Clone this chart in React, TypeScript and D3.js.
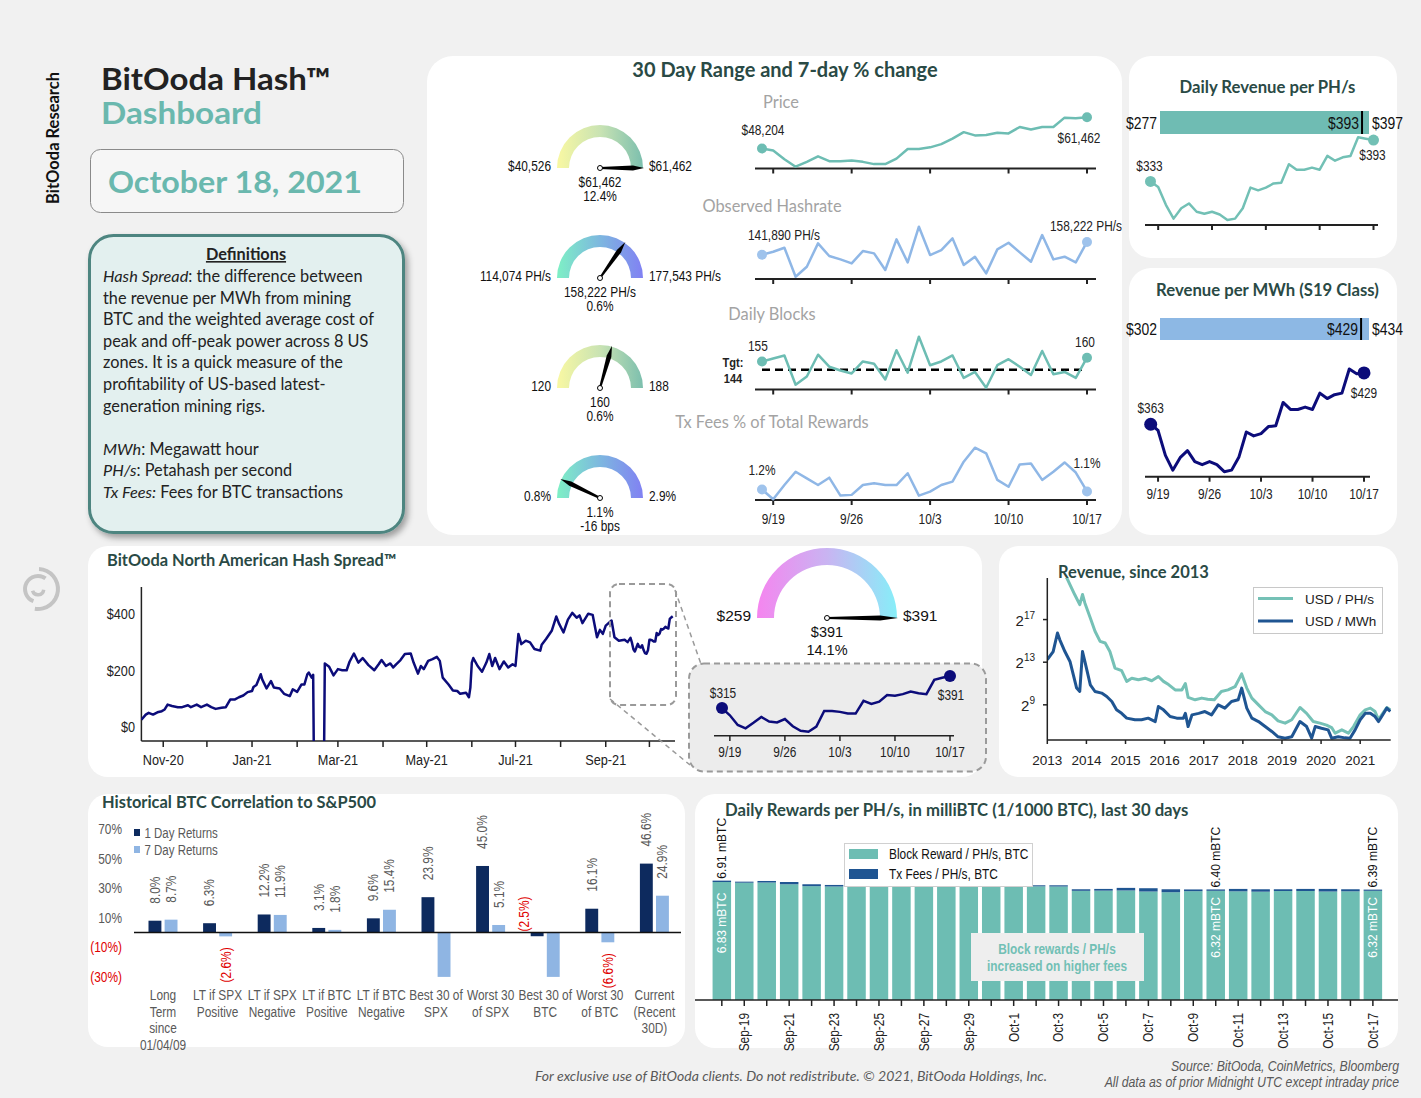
import * as d3 from "d3";

const ARIAL = "'Liberation Sans', Arial, sans-serif";
const CAL = "Lato, 'Open Sans', sans-serif";
const NS = 0.82; // narrow text squeeze (no Arial Narrow installed)

const TEAL = "#6dbdb3";
const LBLUE = "#8fb7e6";
const NAVY = "#0c0c7a";
const DBLUE = "#1f5592";
const TITLE = "#2a4a45";
const GRAY = "#595959";

// ---- 30 day window (9/18 - 10/17) ----
const days30 = d3.timeDay.range(new Date(2021, 8, 18), new Date(2021, 9, 18));

const priceUsd = [48204, 47366, 43672, 40526, 42578, 44904, 42852, 42852, 43125, 42578, 41620, 41620, 43946, 48050, 48050, 48734, 50102, 52428, 55164, 53796, 53932, 54890, 54616, 57352, 56258, 57352, 57352, 61320, 61046, 61462];
const hashratePhs = [141890, 145800, 150875, 114074, 126764, 156374, 140300, 136070, 131000, 146650, 143680, 122530, 161450, 132260, 177543, 141570, 147910, 162720, 128880, 139450, 118300, 148760, 157220, 144950, 133110, 166950, 136070, 139450, 132260, 158222];
const dailyBlocks = [155, 159, 163, 124, 135, 164, 148, 143, 139, 155, 152, 131, 170, 140, 188, 150, 155, 163, 133, 141, 120, 150, 158, 148, 137, 169, 138, 141, 133, 160];
const txFeePct = [1.2, 0.8, 1.38, 1.92, 1.65, 1.38, 1.68, 0.95, 0.98, 1.38, 1.45, 1.38, 1.38, 1.86, 0.95, 1.11, 1.38, 1.52, 2.33, 2.9, 2.67, 1.59, 1.31, 2.22, 2.26, 1.59, 1.92, 2.3, 1.89, 1.12];
const revPerPhs = [333, 325, 299, 279, 294, 301, 289, 286, 289, 285, 277, 279, 294, 324, 320, 324, 330, 331, 358, 350, 350, 353, 350, 370, 363, 368, 370, 397, 395, 393];
const revPerMwh = [363, 355, 323, 304, 320, 329, 315, 311, 315, 311, 302, 304, 321, 353, 348, 351, 360, 361, 391, 382, 382, 385, 382, 403, 396, 401, 403, 434, 428, 429];
const spreadLast30 = [315, 298, 275, 267, 280, 294, 283, 281, 289, 272, 261, 259, 271, 308, 308, 306, 302, 302, 332, 325, 330, 346, 344, 348, 354, 350, 348, 382, 387, 391];

// ---- hash spread, one year (before the last 30 days) ----
const spreadDates = [
  "2020-10-17", "2020-10-20", "2020-10-22", "2020-10-25", "2020-10-28", "2020-10-31", "2020-11-02", "2020-11-04",
  "2020-11-07", "2020-11-11", "2020-11-14", "2020-11-18", "2020-11-20", "2020-11-24", "2020-11-27", "2020-12-01",
  "2020-12-04", "2020-12-07", "2020-12-11", "2020-12-14", "2020-12-17", "2020-12-20", "2020-12-23", "2020-12-26",
  "2020-12-29", "2021-01-01", "2021-01-02", "2021-01-04", "2021-01-07", "2021-01-08", "2021-01-11", "2021-01-14",
  "2021-01-16", "2021-01-20", "2021-01-23", "2021-01-27", "2021-01-29", "2021-02-01", "2021-02-04", "2021-02-06",
  "2021-02-08", "2021-02-09", "2021-02-11", "2021-02-12", "2021-02-13", "2021-02-16", "2021-02-19", "2021-02-20",
  "2021-02-23", "2021-02-26", "2021-03-01", "2021-03-04", "2021-03-07", "2021-03-09", "2021-03-12", "2021-03-15",
  "2021-03-18", "2021-03-22", "2021-03-26", "2021-03-29", "2021-03-31", "2021-04-03", "2021-04-06", "2021-04-08",
  "2021-04-10", "2021-04-13", "2021-04-16", "2021-04-20", "2021-04-22", "2021-04-25", "2021-04-27", "2021-04-29",
  "2021-05-02", "2021-05-05", "2021-05-08", "2021-05-10", "2021-05-12", "2021-05-16", "2021-05-19", "2021-05-22",
  "2021-05-24", "2021-05-28", "2021-05-30", "2021-05-31", "2021-06-01", "2021-06-02", "2021-06-05", "2021-06-08",
  "2021-06-11", "2021-06-13", "2021-06-15", "2021-06-17", "2021-06-20", "2021-06-23", "2021-06-26", "2021-06-29",
  "2021-07-01", "2021-07-03", "2021-07-05", "2021-07-08", "2021-07-11", "2021-07-14", "2021-07-18", "2021-07-19",
  "2021-07-22", "2021-07-26", "2021-07-29", "2021-07-31", "2021-08-03", "2021-08-06", "2021-08-09", "2021-08-12",
  "2021-08-14", "2021-08-16", "2021-08-20", "2021-08-23", "2021-08-26", "2021-08-28", "2021-08-30", "2021-09-01",
  "2021-09-05", "2021-09-07", "2021-09-10", "2021-09-14", "2021-09-16",
];
const spreadValues = [
  27, 45, 51, 45, 53, 57, 63, 80,
  75, 71, 71, 78, 71, 80, 71, 80,
  71, 65, 69, 71, 98, 98, 106, 112,
  124, 128, 142, 149, 187, 169, 137, 163,
  140, 137, 118, 110, 134, 125, 151, 151,
  187, 193, 175, 185, -420, -600, -400, 225,
  213, 183, 205, 201, 201, 231, 260, 228,
  244, 219, 201, 222, 237, 216, 225, 211,
  222, 237, 258, 260, 228, 189, 216, 205,
  234, 240, 248, 234, 175, 151, 130, 128,
  118, 122, 106, 140, 228, 244, 216, 196,
  228, 258, 216, 244, 205, 232, 211, 222,
  216, 329, 293, 305, 299, 276, 270, 291,
  311, 341, 390, 364, 334, 379, 403, 386,
  394, 367, 400, 396, 317, 343, 329, 358,
  376, 317, 305, 308, 300,
];

// ---- revenue since 2013 (log2 of USD) ----
const revYearsPhs = [2013.0, 2013.28, 2013.5, 2013.7, 2013.83, 2013.9, 2013.96, 2014.1, 2014.22, 2014.35, 2014.48, 2014.6, 2014.73, 2014.9, 2015.03, 2015.16, 2015.33, 2015.5, 2015.67, 2015.84, 2015.97, 2016.1, 2016.27, 2016.44, 2016.53, 2016.6, 2016.78, 2016.95, 2017.1, 2017.27, 2017.45, 2017.62, 2017.8, 2017.97, 2018.1, 2018.23, 2018.4, 2018.57, 2018.74, 2018.9, 2019.08, 2019.25, 2019.46, 2019.63, 2019.8, 2019.97, 2020.14, 2020.27, 2020.36, 2020.53, 2020.7, 2020.83, 2021.0, 2021.13, 2021.26, 2021.38, 2021.47, 2021.55, 2021.68, 2021.77];
const revPhsLog2 = [22.5, 21.8, 20.9, 19.35, 18.4, 19.35, 18.56, 17.15, 15.9, 14.96, 14.8, 14.0, 12.45, 12.2, 11.2, 11.5, 11.35, 11.5, 11.26, 11.66, 11.2, 10.9, 10.4, 10.4, 11.0, 9.7, 9.47, 9.63, 9.53, 9.47, 10.25, 10.4, 10.7, 11.9, 10.57, 9.63, 9.0, 8.37, 8.06, 7.5, 7.28, 7.6, 8.75, 8.2, 7.43, 7.28, 7.1, 6.87, 6.34, 6.65, 6.34, 6.96, 8.06, 8.53, 8.69, 8.37, 7.6, 8.06, 8.75, 8.53];
const revYearsMwh = [2013.0, 2013.15, 2013.26, 2013.32, 2013.45, 2013.58, 2013.75, 2013.83, 2013.9, 2013.96, 2014.1, 2014.22, 2014.39, 2014.52, 2014.65, 2014.77, 2014.9, 2015.03, 2015.24, 2015.41, 2015.58, 2015.76, 2015.84, 2015.97, 2016.14, 2016.31, 2016.48, 2016.53, 2016.6, 2016.7, 2016.87, 2017.03, 2017.2, 2017.37, 2017.54, 2017.71, 2017.88, 2017.97, 2018.1, 2018.23, 2018.4, 2018.57, 2018.74, 2018.9, 2019.08, 2019.25, 2019.46, 2019.63, 2019.76, 2019.85, 2020.01, 2020.18, 2020.27, 2020.44, 2020.61, 2020.74, 2020.87, 2021.0, 2021.13, 2021.26, 2021.38, 2021.47, 2021.55, 2021.68, 2021.77];
const revMwhLog2 = [13.23, 14.0, 15.74, 15.1, 14.0, 13.07, 10.57, 10.25, 14.0, 13.07, 10.88, 10.25, 10.1, 9.78, 9.31, 8.53, 8.2, 7.75, 7.6, 7.6, 7.75, 7.43, 8.84, 8.53, 7.9, 7.75, 7.75, 8.2, 6.96, 8.06, 8.2, 8.37, 8.06, 9.0, 8.69, 9.31, 9.47, 10.57, 8.69, 7.75, 7.43, 6.96, 6.5, 6.0, 5.87, 6.0, 7.43, 6.96, 5.87, 6.96, 6.8, 6.65, 5.87, 6.0, 5.9, 5.87, 6.65, 7.6, 8.2, 8.2, 7.9, 7.43, 7.9, 8.69, 8.37];
const revYears = [2013, 2014, 2015, 2016, 2017, 2018, 2019, 2020, 2021];
const revExpTicks = [9, 13, 17];

// ---- correlation ----
const corrCategories = [
  ["Long", "Term", "since", "01/04/09"], ["LT if SPX", "Positive"], ["LT if SPX", "Negative"], ["LT if BTC", "Positive"],
  ["LT if BTC", "Negative"], ["Best 30 of", "SPX"], ["Worst 30", "of SPX"], ["Best 30 of", "BTC"], ["Worst 30", "of BTC"],
  ["Current", "(Recent", "30D)"],
];
const corr1Day = [8.0, 6.3, 12.2, 3.1, 9.6, 23.9, 45.0, -2.5, 16.1, 46.6];
const corr7Day = [8.7, -2.6, 11.9, 1.8, 15.4, -31, 5.1, -31, -6.6, 24.9];
const corrTicks = [70, 50, 30, 10, -10, -30];

// ---- daily rewards (mBTC) ----
const blockRewardMbtc = [6.83, 6.79, 6.8, 6.7, 6.59, 6.57, 6.55, 6.58, 6.57, 6.55, 6.54, 6.57, 6.59, 6.54, 6.58, 6.57, 6.32, 6.33, 6.34, 6.28, 6.24, 6.3, 6.32, 6.29, 6.27, 6.31, 6.31, 6.28, 6.29, 6.32];
const txFeesMbtc = [0.08, 0.06, 0.09, 0.13, 0.11, 0.09, 0.11, 0.06, 0.07, 0.09, 0.1, 0.09, 0.09, 0.12, 0.06, 0.07, 0.09, 0.1, 0.15, 0.19, 0.17, 0.1, 0.08, 0.14, 0.14, 0.1, 0.12, 0.15, 0.12, 0.07];
const rewardCallouts = [0, 22, 29];

const definitionLines: [string, string][] = [
  ["Hash Spread", ": the difference between"],
  ["", "the revenue per MWh from mining"],
  ["", "BTC and the weighted average cost of"],
  ["", "peak and off-peak power across 8 US"],
  ["", "zones. It is a quick measure of the"],
  ["", "profitability of US-based latest-"],
  ["", "generation mining rigs."],
  ["", ""],
  ["MWh", ": Megawatt hour"],
  ["PH/s", ": Petahash per second"],
  ["Tx Fees:", " Fees for BTC transactions"],
];

const fmtMD = d3.timeFormat("%-m/%-d");
const fmtBD = d3.timeFormat("%b-%-d");
const fmtMon = d3.timeFormat("%b-%y");
const usd = (v: number) => "$" + d3.format(",")(v);

// narrow (Arial Narrow-like) text
function NT({ x = 0, y = 0, rot = 0, children, ...rest }: any) {
  return (
    <text transform={`translate(${x},${y})${rot ? ` rotate(${rot})` : ""} scale(${NS},1)`} fontFamily={ARIAL} {...rest}>
      {children}
    </text>
  );
}

function Panel({ x, y, w, h, r = 22 }: any) {
  return <rect x={x} y={y} width={w} height={h} rx={r} fill="#fff" />;
}

function Gauge(p: any) {
  const arcPath = d3.arc()({ innerRadius: p.r - p.w, outerRadius: p.r, startAngle: -Math.PI / 2, endAngle: Math.PI / 2 } as any) as string;
  const ang = d3.scaleLinear().domain(p.domain).range([Math.PI, 0]).clamp(true)(p.value);
  const L = p.r + 1;
  const ux = Math.cos(ang), uy = -Math.sin(ang);
  const nx = -uy, ny = ux;
  const pt = (t: number, h: number) => `${p.cx + ux * t + nx * h},${p.cy + uy * t + ny * h}`;
  const needle = [pt(0, 1), pt(L * 0.75, 2.4), pt(L, 0), pt(L * 0.75, -2.4), pt(0, -1)].join(" ");
  const fs = p.fs ?? 14.5;
  const gap = p.gap ?? 14;
  const T = p.wide ? (q: any) => <text fontFamily={ARIAL} {...q} /> : NT;
  return (
    <g fill="#111">
      <defs>
        <linearGradient id={p.id} x1="0" x2="1" y1="0" y2="0">
          {p.colors.map((c: string, i: number) => (
            <stop key={i} offset={i / (p.colors.length - 1)} stopColor={c} />
          ))}
        </linearGradient>
      </defs>
      <path d={arcPath} transform={`translate(${p.cx},${p.cy})`} fill={`url(#${p.id})`} />
      <polygon points={needle} fill="#000" />
      <circle cx={p.cx} cy={p.cy} r={2.5} fill="#fff" stroke="#000" strokeWidth={1} />
      <T x={p.cx - p.r - 6} y={p.cy + 3} textAnchor="end" fontSize={p.sideFs ?? fs}>{p.minLabel}</T>
      <T x={p.cx + p.r + 6} y={p.cy + 3} textAnchor="start" fontSize={p.sideFs ?? fs}>{p.maxLabel}</T>
      <T x={p.cx} y={p.cy + (p.dy1 ?? 19)} textAnchor="middle" fontSize={fs}>{p.valueLabel}</T>
      <T x={p.cx} y={p.cy + (p.dy1 ?? 19) + gap} textAnchor="middle" fontSize={fs}>{p.changeLabel}</T>
    </g>
  );
}

function Spark(p: any) {
  const { values, x, y, color, dotColor, dotR = 5, axisY, ax0, ax1, tickLabels, sw = 2.5 } = p;
  const line = d3.line<number>().x((_, i) => x(days30[i])).y((d) => y(d));
  const ticks = x.ticks(d3.timeWeek.every(1));
  const n = values.length - 1;
  const p0 = [x(days30[0]), y(values[0])];
  const p1 = [x(days30[n]), y(values[n])];
  return (
    <g fill="#222">
      <line x1={ax0} x2={ax1} y1={axisY} y2={axisY} stroke="#222" strokeWidth={2} />
      {ticks.map((t: Date, i: number) => (
        <g key={i}>
          <line x1={x(t)} x2={x(t)} y1={axisY} y2={axisY + 5} stroke="#222" strokeWidth={2} />
          {tickLabels && (
            <NT x={x(t)} y={axisY + (p.tickDy ?? 24)} textAnchor="middle" fontSize={14.5}>{fmtMD(t)}</NT>
          )}
        </g>
      ))}
      {p.children}
      <path d={line(values) as string} fill="none" stroke={color} strokeWidth={sw} strokeLinejoin="round" />
      <circle cx={p0[0]} cy={p0[1]} r={dotR} fill={dotColor ?? color} />
      <circle cx={p1[0]} cy={p1[1]} r={dotR} fill={dotColor ?? color} />
      {p.startLbl && (
        <NT x={p0[0] + p.startLbl[1]} y={p0[1] + p.startLbl[2]} textAnchor={p.startLbl[3] ?? "middle"} fontSize={14.5}>{p.startLbl[0]}</NT>
      )}
      {p.endLbl && (
        <NT x={p1[0] + p.endLbl[1]} y={p1[1] + p.endLbl[2]} textAnchor={p.endLbl[3] ?? "middle"} fontSize={14.5}>{p.endLbl[0]}</NT>
      )}
    </g>
  );
}

function RangeBar({ x0, x1, y0, h, domain, value, color, title, ty }: any) {
  const s = d3.scaleLinear().domain(domain).range([x0, x1]);
  const mx = s(value);
  const ly = y0 + h / 2 + 6;
  return (
    <g fill="#111">
      <text x={(x0 + x1) / 2 + 3} y={ty} textAnchor="middle" fontFamily={CAL} fontWeight={700} fontSize={16.7} fill={TITLE}>{title}</text>
      <rect x={x0} y={y0} width={x1 - x0} height={h} fill={color} />
      <line x1={mx} x2={mx} y1={y0} y2={y0 + h} stroke="#000" strokeWidth={2} />
      <NT x={mx - 3} y={ly} textAnchor="end" fontSize={17}>{usd(value)}</NT>
      <NT x={x0 - 3} y={ly} textAnchor="end" fontSize={17}>{usd(domain[0])}</NT>
      <NT x={x1 + 3} y={ly} textAnchor="start" fontSize={17}>{usd(domain[1])}</NT>
    </g>
  );
}

function Logo({ cx, cy }: any) {
  const arc = d3.arc();
  const parts = [
    { innerRadius: 18, outerRadius: 22, startAngle: 0.05, endAngle: 3.3 },
    { innerRadius: 11, outerRadius: 15, startAngle: 3.5, endAngle: 6.9 },
    { innerRadius: 4, outerRadius: 7.5, startAngle: 1.7, endAngle: 4.4 },
  ];
  return (
    <g transform={`translate(${cx},${cy})`}>
      {parts.map((d, i) => <path key={i} d={arc(d as any) as string} fill="#c4c4c4" />)}
    </g>
  );
}

function LeftColumn() {
  return (
    <g>
      <text transform="translate(59,138) rotate(-90)" textAnchor="middle" fontFamily={CAL} fontWeight={700} fontSize={16.5} fill="#111">BitOoda Research</text>
      <text x={101} y={90} fontFamily={CAL} fontWeight={700} fontSize={30} textLength={230} lengthAdjust="spacingAndGlyphs" fill="#222">BitOoda Hash™</text>
      <text x={101} y={124} fontFamily={CAL} fontWeight={700} fontSize={30} textLength={161} lengthAdjust="spacingAndGlyphs" fill="#6ab8ae">Dashboard</text>
      <rect x={90.5} y={149.5} width={313} height={63} rx={10} fill="#f6f6f6" stroke="#8a8a8a" />
      <text x={108} y={193} fontFamily={CAL} fontWeight={700} fontSize={31} textLength={254} lengthAdjust="spacingAndGlyphs" fill="#6ab8ae">October 18, 2021</text>
      <defs>
        <filter id="defShadow" x="-10%" y="-10%" width="130%" height="130%">
          <feDropShadow dx="3" dy="4" stdDeviation="3" floodColor="#000" floodOpacity="0.35" />
        </filter>
      </defs>
      <rect x={89.5} y={235.5} width={314} height={297} rx={24} fill="#e3f0ef" stroke="#4d8580" strokeWidth={3} filter="url(#defShadow)" />
      <text x={246} y={260} textAnchor="middle" fontFamily={CAL} fontWeight={700} fontSize={16.3} fill="#222" textDecoration="underline">Definitions</text>
      <g fontFamily={CAL} fontSize={16.3} fill="#222">
        {definitionLines.map(([it, rest], i) => (
          <text key={i} x={103} y={282 + i * 21.6}>
            {it && <tspan fontStyle="italic">{it}</tspan>}
            {rest}
          </text>
        ))}
      </g>
      <Logo cx={38} cy={589} />
    </g>
  );
}

function TopCenter() {
  const x = d3.scaleTime().domain([days30[0], days30[29]]).range([762, 1087]);
  const yPrice = d3.scaleLinear().domain([40526, 61462]).range([166.7, 117.3]);
  const yHash = d3.scaleLinear().domain([114074, 177543]).range([276.7, 226.7]);
  const yBlk = d3.scaleLinear().domain([120, 188]).range([387.7, 336.7]);
  const yTx = d3.scaleLinear().domain([0.8, 2.9]).range([499.3, 447.7]);
  const warm = ["#f9f8a2", "#c9e3b3", "#7cbfae"];
  const cool = ["#7ef0c5", "#7db7df", "#8181f3"];
  const sub = { fontFamily: CAL, fontSize: 16.4, fill: "#a3a3a3", textAnchor: "middle" as const };
  return (
    <g>
      <Panel x={427} y={56} w={695} h={479} r={26} />
      <text x={785} y={77} textAnchor="middle" fontFamily={CAL} fontWeight={700} fontSize={20} fill={TITLE}>30 Day Range and 7-day % change</text>
      <text x={781} y={108} {...sub}>Price</text>
      <text x={772} y={212} {...sub}>Observed Hashrate</text>
      <text x={772} y={320} {...sub}>Daily Blocks</text>
      <text x={772} y={428} {...sub}>Tx Fees % of Total Rewards</text>

      <Gauge id="gPrice" cx={600} cy={168} r={43} w={12} domain={[40526, 61462]} value={61462} colors={warm}
        minLabel="$40,526" maxLabel="$61,462" valueLabel="$61,462" changeLabel="12.4%" />
      <Gauge id="gHash" cx={600} cy={278} r={43} w={12} domain={[114074, 177543]} value={158222} colors={cool}
        minLabel="114,074 PH/s" maxLabel="177,543 PH/s" valueLabel="158,222 PH/s" changeLabel="0.6%" />
      <Gauge id="gBlk" cx={600} cy={388} r={43} w={12} domain={[120, 188]} value={160} colors={warm}
        minLabel="120" maxLabel="188" valueLabel="160" changeLabel="0.6%" />
      <Gauge id="gTx" cx={600} cy={498} r={43} w={12} domain={[0.8, 2.9]} value={1.1} colors={cool}
        minLabel="0.8%" maxLabel="2.9%" valueLabel="1.1%" changeLabel="-16 bps" />

      <Spark values={priceUsd} x={x} y={yPrice} color={TEAL} axisY={168.5} ax0={755} ax1={1096}
        startLbl={["$48,204", 1, -14]} endLbl={["$61,462", -8, 26]} />
      <Spark values={hashratePhs} x={x} y={yHash} color={LBLUE} dotColor="#9fc3ec" axisY={279} ax0={755} ax1={1096}
        startLbl={["141,890 PH/s", -14, -15, "start"]} endLbl={["158,222 PH/s", -37, -11, "start"]} />
      <Spark values={dailyBlocks} x={x} y={yBlk} color={TEAL} axisY={389.5} ax0={755} ax1={1096}
        startLbl={["155", -14, -10, "start"]} endLbl={["160", -2, -11]}>
        <line x1={762} x2={1087} y1={yBlk(144)} y2={yBlk(144)} stroke="#000" strokeWidth={2.5} strokeDasharray="8,5" />
        <NT x={733} y={367} textAnchor="middle" fontWeight={700} fontSize={13.5}>Tgt:</NT>
        <NT x={733} y={383} textAnchor="middle" fontWeight={700} fontSize={13.5}>144</NT>
      </Spark>
      <Spark values={txFeePct} x={x} y={yTx} color={LBLUE} dotColor="#9fc3ec" axisY={500} ax0={755} ax1={1096} tickLabels
        startLbl={["1.2%", 0, -14]} endLbl={["1.1%", 0, -23]} />
    </g>
  );
}

function RightColumn() {
  const xA = d3.scaleTime().domain([days30[0], days30[29]]).range([1150.5, 1373.5]);
  const yA = d3.scaleLinear().domain([277, 397]).range([220, 137.3]);
  const xB = d3.scaleTime().domain([days30[0], days30[29]]).range([1150.7, 1364]);
  const yB = d3.scaleLinear().domain([302, 434]).range([471.7, 369]);
  return (
    <g>
      <Panel x={1129} y={56} w={268} h={202} r={22} />
      <Panel x={1129} y={268} w={268} h={267} r={22} />
      <RangeBar x0={1160} x1={1369} y0={111} h={23} domain={[277, 397]} value={393} color="#6fbcb3" title="Daily Revenue per PH/s" ty={93} />
      <RangeBar x0={1160} x1={1369} y0={318} h={22} domain={[302, 434]} value={429} color="#8db8e4" title="Revenue per MWh (S19 Class)" ty={296} />
      <Spark values={revPerPhs} x={xA} y={yA} color="#72c0b5" dotR={5.5} axisY={225} ax0={1145} ax1={1378} sw={2.5}
        startLbl={["$333", -1, -10]} endLbl={["$393", -1, 20]} />
      <Spark values={revPerMwh} x={xB} y={yB} color={NAVY} dotR={6.5} axisY={476.7} ax0={1145} ax1={1370} sw={3} tickLabels tickDy={22}
        startLbl={["$363", 0, -11]} endLbl={["$429", 0, 25]} />
    </g>
  );
}

function HashSpread() {
  const parse = d3.timeParse("%Y-%m-%d");
  const series = spreadDates.map((d, i) => ({ date: parse(d) as Date, v: spreadValues[i] }))
    .concat(days30.map((d, i) => ({ date: d, v: spreadLast30[i] })));
  const x = d3.scaleTime().domain([new Date(2020, 9, 17), new Date(2021, 9, 17)]).range([141.4, 672.7]);
  const y = d3.scaleLinear().domain([-48, 494]).range([741, 587]);
  const line = d3.line<any>().x((d) => x(d.date)).y((d) => y(d.v));
  const months = d3.timeMonth.range(new Date(2020, 10, 1), new Date(2021, 9, 2));
  const xi = d3.scaleTime().domain([days30[0], days30[29]]).range([722, 950]);
  const yi = d3.scaleLinear().domain([259, 391]).range([731.7, 676]);
  const li = d3.line<number>().x((_, i) => xi(days30[i])).y((d) => yi(d));
  const n = spreadLast30.length - 1;
  return (
    <g>
      <Panel x={88} y={546} w={894} h={231} r={20} />
      <text x={107} y={566} fontFamily={CAL} fontWeight={700} fontSize={16.4} fill={TITLE}>BitOoda North American Hash Spread™</text>
      <defs>
        <clipPath id="spreadClip"><rect x={141} y={580} width={540} height={161} /></clipPath>
      </defs>
      <g fill="#222">
        <line x1={141.4} x2={141.4} y1={587} y2={741} stroke="#222" strokeWidth={1.5} />
        <line x1={141.4} x2={675} y1={741} y2={741} stroke="#222" strokeWidth={1.5} />
        {[0, 200, 400].map((t) => (
          <NT key={t} x={135} y={y(t) + 5} textAnchor="end" fontSize={15.5}>{"$" + t}</NT>
        ))}
        {months.map((m, i) => (
          <g key={i}>
            <line x1={x(m)} x2={x(m)} y1={741} y2={747} stroke="#222" strokeWidth={1.5} />
            {i % 2 === 0 && <NT x={x(m)} y={765} textAnchor="middle" fontSize={15.5}>{fmtMon(m)}</NT>}
          </g>
        ))}
      </g>
      <path d={line(series) as string} fill="none" stroke={NAVY} strokeWidth={2.5} clipPath="url(#spreadClip)" strokeLinejoin="round" />
      <rect x={610} y={584} width={66} height={121} rx={9} fill="none" stroke="#9a9a9a" strokeWidth={2} strokeDasharray="6,4" />
      <line x1={675} y1={590} x2={701} y2={664} stroke="#9a9a9a" strokeWidth={1.5} strokeDasharray="5,4" />
      <line x1={610} y1={699} x2={690} y2={765} stroke="#9a9a9a" strokeWidth={1.5} strokeDasharray="5,4" />
      <rect x={689} y={663.5} width={297} height={108} rx={15} fill="#ececec" stroke="#9a9a9a" strokeWidth={2} strokeDasharray="6,4" />
      <g fill="#222">
        <line x1={714} x2={954} y1={735.7} y2={735.7} stroke="#222" strokeWidth={1.5} />
        {xi.ticks(d3.timeWeek.every(1)).map((t: Date, i: number) => (
          <g key={i}>
            <line x1={xi(t)} x2={xi(t)} y1={735.7} y2={741} stroke="#222" strokeWidth={1.5} />
            <NT x={xi(t)} y={757} textAnchor="middle" fontSize={14.5}>{fmtMD(t)}</NT>
          </g>
        ))}
        <path d={li(spreadLast30) as string} fill="none" stroke={NAVY} strokeWidth={2.5} />
        <circle cx={xi(days30[0])} cy={yi(spreadLast30[0])} r={6} fill={NAVY} />
        <circle cx={xi(days30[n])} cy={yi(spreadLast30[n])} r={6} fill={NAVY} />
        <NT x={xi(days30[0]) + 1} y={yi(spreadLast30[0]) - 10} textAnchor="middle" fontSize={14.5}>$315</NT>
        <NT x={xi(days30[n]) + 1} y={yi(spreadLast30[n]) + 24} textAnchor="middle" fontSize={14.5}>$391</NT>
      </g>
      <Gauge id="gSpread" cx={827} cy={618} r={70} w={17} domain={[259, 391]} value={391}
        colors={["#f585ef", "#c9b4f2", "#87eef8"]} minLabel="$259" maxLabel="$391" valueLabel="$391" changeLabel="14.1%"
        wide fs={14.5} sideFs={15.5} dy1={19} gap={18} />
    </g>
  );
}

function RevenueSince2013() {
  const x = d3.scaleLinear().domain([2013, 2021.78]).range([1047.3, 1390.7]);
  const y = d3.scaleLog().base(2).domain([2 ** 5.7, 2 ** 20.9]).range([740, 578]);
  const l = d3.line<[number, number]>().x((d) => x(d[0])).y((d) => y(2 ** d[1]));
  const phs = revYearsPhs.map((t, i) => [t, revPhsLog2[i]] as [number, number]);
  const mwh = revYearsMwh.map((t, i) => [t, revMwhLog2[i]] as [number, number]);
  return (
    <g>
      <Panel x={999} y={546} w={399} h={231} r={20} />
      <defs>
        <clipPath id="revClip"><rect x={1047} y={578} width={344} height={162} /></clipPath>
      </defs>
      <g clipPath="url(#revClip)" fill="none" strokeWidth={3} strokeLinejoin="round">
        <path d={l(phs) as string} stroke="#75c1b6" />
        <path d={l(mwh) as string} stroke={DBLUE} />
      </g>
      <text x={1058} y={578} fontFamily={CAL} fontWeight={700} fontSize={16.5} fill={TITLE}>Revenue, since 2013</text>
      <g fontFamily={ARIAL} fontSize={13.5} fill="#222">
        <line x1={1047.3} x2={1047.3} y1={578} y2={740} stroke="#222" strokeWidth={1.5} />
        <line x1={1047.3} x2={1390.7} y1={740} y2={740} stroke="#222" strokeWidth={1.5} />
        {revYears.map((t) => (
          <g key={t}>
            <line x1={x(t)} x2={x(t)} y1={740} y2={744} stroke="#222" strokeWidth={1.5} />
            <text x={x(t)} y={765} textAnchor="middle">{t}</text>
          </g>
        ))}
        {revExpTicks.map((e) => (
          <g key={e}>
            <line x1={1043} x2={1047.3} y1={y(2 ** e)} y2={y(2 ** e)} stroke="#222" strokeWidth={1.5} />
            <text x={1035} y={y(2 ** e) + 6} textAnchor="end" fontSize={15}>
              2<tspan fontSize={10} dy={-7}>{e}</tspan>
            </text>
          </g>
        ))}
        <rect x={1253.5} y={587.5} width={129} height={46} fill="#fff" stroke="#c8c8c8" />
        <line x1={1258} x2={1293} y1={598.5} y2={598.5} stroke="#75c1b6" strokeWidth={3} />
        <line x1={1258} x2={1293} y1={621} y2={621} stroke={DBLUE} strokeWidth={3} />
        <text x={1305} y={604}>USD / PH/s</text>
        <text x={1305} y={626}>USD / MWh</text>
      </g>
    </g>
  );
}

function Correlation() {
  const x = d3.scaleBand<number>().domain(d3.range(corrCategories.length)).range([135.7, 681.7]);
  const x1 = d3.scaleBand<string>().domain(["1d", "7d"]).range([-14.5, 14.5]).paddingInner(0.2);
  const y = d3.scaleLinear().domain([-30, 70]).range([976.9, 829]);
  const fmt = (v: number) => (v >= 0 ? `${v.toFixed(1)}%` : `(${Math.abs(v).toFixed(1)}%)`);
  const series = [
    { key: "1d", vals: corr1Day, color: "#0d2a5e" },
    { key: "7d", vals: corr7Day, color: "#8fb5e3" },
  ];
  const cen = (i: number) => (x(i) as number) + x.bandwidth() / 2;
  return (
    <g>
      <Panel x={88} y={794} w={597} h={253} r={20} />
      <text x={102} y={808} fontFamily={CAL} fontWeight={700} fontSize={16.4} fill={TITLE}>Historical BTC Correlation to S&amp;P500</text>
      {corrTicks.map((t) => (
        <NT key={t} x={122} y={y(t)} dominantBaseline="central" textAnchor="end" fontSize={14.5} fill={t < 0 ? "#e00000" : GRAY}>
          {t < 0 ? `(${-t}%)` : `${t}%`}
        </NT>
      ))}
      {series.map((s) =>
        s.vals.map((v, i) => {
          const bx = cen(i) + (x1(s.key) as number);
          const vv = Math.max(v, -30);
          const top = y(Math.max(vv, 0));
          const bot = y(Math.min(vv, 0));
          const mid = bx + x1.bandwidth() / 2;
          let label = null;
          if (v >= 0) {
            label = <NT x={mid} y={top - 17} rot={-90} dominantBaseline="central" fill={GRAY} fontSize={14.5}>{fmt(v)}</NT>;
          } else if (v >= -30 && s.key === "1d") {
            label = <NT x={mid - 13} y={y(0) - 1} rot={-90} dominantBaseline="central" fill="#e00000" fontSize={14.5}>{fmt(v)}</NT>;
          } else if (v >= -30) {
            label = <NT x={mid} y={bot + 11} rot={-90} textAnchor="end" dominantBaseline="central" fill="#e00000" fontSize={14.5}>{fmt(v)}</NT>;
          }
          return (
            <g key={s.key + i}>
              <rect x={bx} y={top} width={x1.bandwidth()} height={bot - top} fill={s.color} />
              {label}
            </g>
          );
        })
      )}
      <line x1={134} x2={681} y1={y(0)} y2={y(0)} stroke="#111" strokeWidth={1.5} />
      <g fill={GRAY}>
        <rect x={134} y={829} width={6} height={7} fill="#0d2a5e" />
        <NT x={144.5} y={837.5} fontSize={14}>1 Day Returns</NT>
        <rect x={134} y={846} width={6} height={7} fill="#8fb5e3" />
        <NT x={144.5} y={854.5} fontSize={14}>7 Day Returns</NT>
      </g>
      <g fill={GRAY}>
        {corrCategories.map((lines, i) => (
          <NT key={i} x={cen(i)} y={1000} textAnchor="middle" fontSize={14.5}>
            {lines.map((t, j) => (
              <tspan key={j} x={0} y={j * 16.6}>{t}</tspan>
            ))}
          </NT>
        ))}
      </g>
    </g>
  );
}

function DailyRewards() {
  const x = d3.scaleBand<Date>().domain(days30).range([710.6, 1384.1]).paddingInner(0.176).paddingOuter(0.088);
  const y = d3.scaleLinear().domain([0, 8]).range([1000, 861.8]);
  const f2 = d3.format(".2f");
  return (
    <g>
      <Panel x={695} y={794} w={703} h={254} r={20} />
      <text x={725} y={816} fontFamily={CAL} fontWeight={700} fontSize={16.7} fill={TITLE}>Daily Rewards per PH/s, in milliBTC (1/1000 BTC), last 30 days</text>
      {days30.map((d, i) => {
        const bx = x(d) as number;
        const b = blockRewardMbtc[i];
        const f = txFeesMbtc[i];
        return (
          <g key={i}>
            <rect x={bx} y={y(b)} width={x.bandwidth()} height={y(0) - y(b)} fill={TEAL} />
            <rect x={bx} y={y(b + f)} width={x.bandwidth()} height={y(b) - y(b + f)} fill={DBLUE} />
          </g>
        );
      })}
      <line x1={695} x2={1398} y1={1000} y2={1000} stroke="#222" strokeWidth={1.5} />
      <g fill="#222">
        {days30.map((d, i) => {
          const cx = (x(d) as number) + x.bandwidth() / 2;
          return (
            <g key={i}>
              <line x1={cx} x2={cx} y1={1000} y2={1006} stroke="#222" strokeWidth={1.5} />
              {i % 2 === 1 && (
                <NT x={cx} y={1013} rot={-90} textAnchor="end" dominantBaseline="central" fontSize={14.5}>{fmtBD(d)}</NT>
              )}
            </g>
          );
        })}
      </g>
      <g fontFamily={ARIAL} fontSize={12}>
        {rewardCallouts.map((i) => {
          const cx = (x(days30[i]) as number) + x.bandwidth() / 2;
          const b = blockRewardMbtc[i];
          const tot = b + txFeesMbtc[i];
          return (
            <g key={i}>
              <text transform={`translate(${cx},${y(tot) - 2}) rotate(-90)`} dominantBaseline="central" fill="#111">{f2(tot)} mBTC</text>
              <text transform={`translate(${cx},${(y(b) + y(0)) / 2 - 18}) rotate(-90)`} textAnchor="middle" dominantBaseline="central" fill="#fff">{f2(b)} mBTC</text>
            </g>
          );
        })}
      </g>
      <g fill="#111">
        <rect x={844.5} y={843.5} width={188} height={43} fill="#fff" stroke="#d0d0d0" />
        <rect x={849} y={849} width={29} height={10} fill={TEAL} />
        <NT x={889} y={859} fontSize={14.5}>Block Reward / PH/s, BTC</NT>
        <rect x={849} y={869} width={29} height={10} fill={DBLUE} />
        <NT x={889} y={879} fontSize={14.5}>Tx Fees / PH/s, BTC</NT>
      </g>
      <rect x={971} y={933} width={173} height={48} fill="#eeeeee" />
      <g fontWeight={700} fill="#72c0b5">
        <NT x={1057} y={954} textAnchor="middle" fontSize={14.5}>Block rewards / PH/s</NT>
        <NT x={1057} y={971} textAnchor="middle" fontSize={14.5}>increased on higher fees</NT>
      </g>
    </g>
  );
}

function Footer() {
  return (
    <g fill={GRAY} fontStyle="italic">
      <text x={535} y={1081} fontFamily={CAL} fontSize={13.5} textLength={512} lengthAdjust="spacingAndGlyphs">For exclusive use of BitOoda clients. Do not redistribute.  © 2021, BitOoda Holdings, Inc.</text>
      <NT x={1399} y={1071} textAnchor="end" fontSize={15}>Source: BitOoda, CoinMetrics, Bloomberg</NT>
      <NT x={1399} y={1087} textAnchor="end" fontSize={15}>All data as of prior Midnight UTC except intraday price</NT>
    </g>
  );
}

export default function App() {
  return (
    <svg width={1421} height={1098} viewBox="0 0 1421 1098" style={{ position: "absolute", left: 0, top: 0, background: "#f1f1f1" }}>
      <rect width={1421} height={1098} fill="#f1f1f1" />
      <LeftColumn />
      <TopCenter />
      <RightColumn />
      <HashSpread />
      <RevenueSince2013 />
      <Correlation />
      <DailyRewards />
      <Footer />
    </svg>
  );
}
